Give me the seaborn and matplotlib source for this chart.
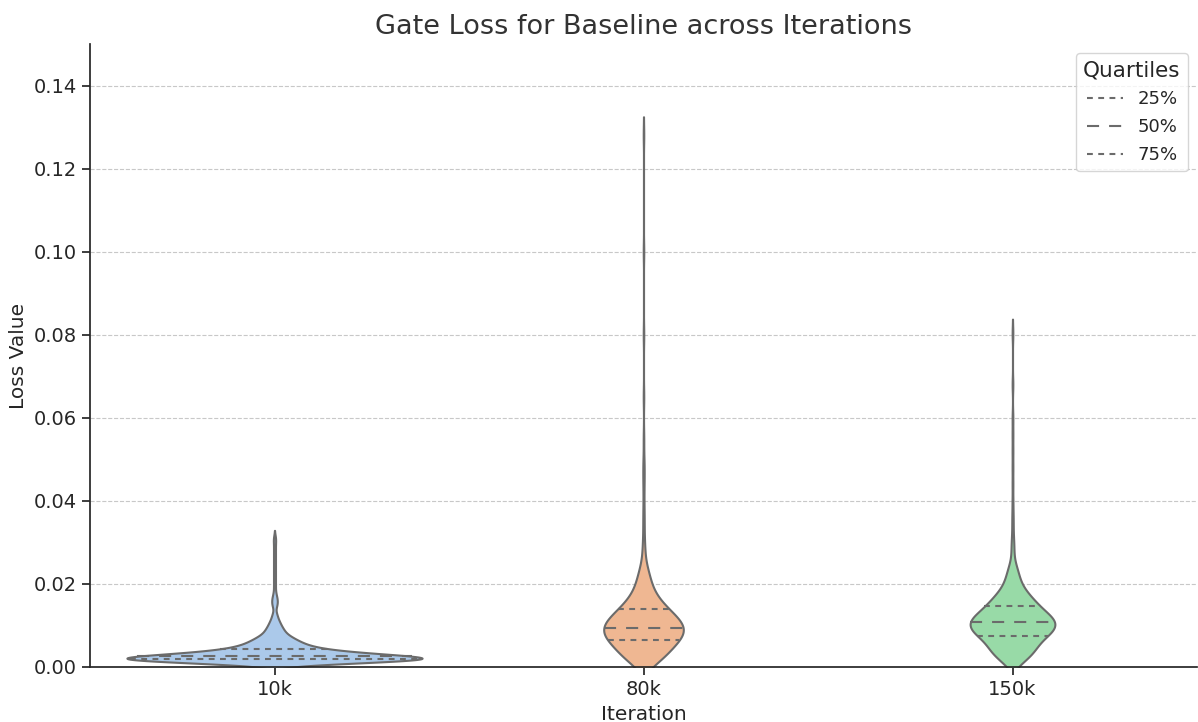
import numpy as np
import pandas as pd
import matplotlib
matplotlib.use("Agg")
import matplotlib.pyplot as plt
from matplotlib.lines import Line2D
import seaborn as sns

# Gate loss per checkpoint, stored as (loss value, number of samples) pairs
iterations = ["10k", "80k", "150k"]

loss_10k_values = [
    0.0011, 0.0012, 0.0013, 0.0014, 0.0015, 0.0016, 0.0017, 0.0018, 0.0019, 0.0020,
    0.0021, 0.0022, 0.0023, 0.0024, 0.0025, 0.0026, 0.0027, 0.0028, 0.0029, 0.0030,
    0.0031, 0.0032, 0.0033, 0.0034, 0.0035, 0.0036, 0.0037, 0.0038, 0.0039, 0.0040,
    0.0041, 0.0042, 0.0043, 0.0044, 0.0045, 0.0046,
    0.0048, 0.0050, 0.0052, 0.0054, 0.0056, 0.0058, 0.0060, 0.0062, 0.0064, 0.0066,
    0.0068, 0.0070, 0.0072, 0.0074, 0.0076, 0.0078, 0.0080,
    0.0085, 0.0090, 0.0095, 0.0100, 0.0105, 0.0110, 0.0115, 0.0120, 0.0125, 0.0130,
    0.0145, 0.0150, 0.0155, 0.0160, 0.0165, 0.0170, 0.0180, 0.0195,
    0.0210, 0.0225, 0.0240, 0.0255, 0.0270, 0.0285, 0.0300, 0.0312,
]
loss_10k_counts = [
    4, 9, 13, 14, 14, 15, 15, 15, 15, 15,
    15, 14, 13, 12, 10, 7, 9, 8, 8, 7,
    7, 6, 6, 6, 5, 5, 5, 4, 4, 4,
    4, 4, 3, 3, 3, 3,
    5, 5, 5, 4, 4, 4, 4, 3, 3, 3,
    3, 3, 2, 2, 2, 2, 2,
    4, 3, 3, 2, 2, 2, 1, 1, 1, 1,
    1, 1, 1, 1, 1, 1, 1, 1,
    1, 1, 1, 1, 1, 1, 1, 1,
]

loss_80k_values = [
    0.0005, 0.0010, 0.0015, 0.0020, 0.0025, 0.0030, 0.0035, 0.0040, 0.0045, 0.0050,
    0.0055, 0.0060, 0.0065, 0.0070, 0.0075, 0.0080, 0.0085, 0.0090, 0.0095, 0.0100,
    0.0105, 0.0110, 0.0115, 0.0120, 0.0125, 0.0130, 0.0135, 0.0140, 0.0145, 0.0150,
    0.0155, 0.0160, 0.0165, 0.0170, 0.0175, 0.0180, 0.0185, 0.0190, 0.0195, 0.0200,
    0.0205, 0.0210, 0.0215, 0.0220, 0.0225, 0.0230, 0.0235, 0.0240, 0.0245, 0.0250,
    0.0260, 0.0270, 0.0280, 0.0290, 0.0300, 0.0320, 0.0340, 0.0360, 0.0380, 0.0410,
    0.0440, 0.0460, 0.0480, 0.0500, 0.0550, 0.0650, 0.0800, 0.1000, 0.1280,
]
loss_80k_counts = [
    5, 6, 7, 7, 7, 8, 9, 9, 10, 10,
    11, 10, 13, 14, 15, 15, 15, 15, 15, 14,
    14, 14, 13, 12, 11, 10, 9, 8, 8, 7,
    7, 6, 5, 4, 4, 4, 3, 3, 3, 3,
    3, 2, 2, 2, 2, 2, 2, 1, 1, 1,
    1, 1, 1, 1, 1, 1, 1, 1, 1, 1,
    1, 1, 1, 1, 1, 1, 1, 1, 1,
]

loss_150k_values = [
    0.0005, 0.0010, 0.0015, 0.0020, 0.0025, 0.0030, 0.0035, 0.0040, 0.0045, 0.0050,
    0.0055, 0.0060, 0.0065, 0.0070, 0.0075, 0.0080, 0.0085, 0.0090, 0.0095, 0.0100,
    0.0105, 0.0110, 0.0115, 0.0120, 0.0125, 0.0130, 0.0135, 0.0140, 0.0145, 0.0150,
    0.0155, 0.0160, 0.0165, 0.0170, 0.0175, 0.0180, 0.0185, 0.0190, 0.0195, 0.0200,
    0.0205, 0.0210, 0.0215, 0.0220, 0.0225, 0.0230, 0.0235, 0.0240, 0.0245, 0.0250,
    0.0260, 0.0270, 0.0280, 0.0290, 0.0300, 0.0310, 0.0330, 0.0350, 0.0370, 0.0400,
    0.0440, 0.0480, 0.0520, 0.0560, 0.0600, 0.0680, 0.0803,
]
loss_150k_counts = [
    3, 4, 4, 5, 6, 7, 8, 8, 8, 8,
    9, 9, 10, 10, 11, 14, 15, 15, 15, 15,
    16, 16, 15, 14, 13, 12, 11, 10, 9, 9,
    8, 8, 7, 6, 6, 5, 4, 4, 3, 3,
    3, 3, 2, 2, 2, 2, 2, 2, 1, 1,
    1, 1, 1, 1, 1, 1, 1, 1, 1, 1,
    1, 1, 1, 1, 1, 1, 1,
]

quartile_labels = ["25%", "50%", "75%"]

sns.set_theme(style="ticks")
plt.rcParams["font.family"] = ["DejaVu Sans"]

groups = [
    (loss_10k_values, loss_10k_counts),
    (loss_80k_values, loss_80k_counts),
    (loss_150k_values, loss_150k_counts),
]
frames = [
    pd.DataFrame({"Iteration": name, "Loss Value": np.repeat(vals, cnts)})
    for name, (vals, cnts) in zip(iterations, groups)
]
df = pd.concat(frames, ignore_index=True)

LINE_GRAY = "#6b6b6b"
QUART_DASH = (2.8, 2.6)
MEDIAN_DASH = (5.8, 4.8)

fig = plt.figure(figsize=(11.98, 7.22), dpi=100)
ax = fig.add_axes([90 / 1198, 55 / 722, 1107 / 1198, 623 / 722])

sns.violinplot(
    data=df, x="Iteration", y="Loss Value", hue="Iteration", order=iterations,
    palette="pastel", legend=False, inner="quart", linewidth=1.5,
    linecolor=LINE_GRAY, bw_adjust=0.65, gridsize=600, common_norm=True, ax=ax,
)

# quartile lines come in groups of three (25%, 50%, 75%) per violin
for i, ln in enumerate(ax.lines):
    ln.set_color(LINE_GRAY)
    ln.set_linewidth(1.5)
    ln.set_dashes(MEDIAN_DASH if i % 3 == 1 else QUART_DASH)

ax.set_ylim(0, 0.15)
ax.set_yticks(np.arange(0, 0.141, 0.02))
ax.grid(axis="y", linestyle="--", color="#c8c8c8", linewidth=0.8)
ax.set_axisbelow(True)
sns.despine(ax=ax)

ax.set_title("Gate Loss for Baseline across Iterations", fontsize=19.5, color="#333333", pad=7)
ax.set_xlabel("Iteration", fontsize=14.5, color="#262626")
ax.set_ylabel("Loss Value", fontsize=14.5, color="#262626")
ax.tick_params(axis="both", labelsize=14, colors="#262626")

handles = [
    Line2D([0], [0], color=LINE_GRAY, linewidth=1.5,
           dashes=(MEDIAN_DASH if k == 1 else QUART_DASH))
    for k in range(3)
]
ax.legend(handles, quartile_labels, title="Quartiles", loc="upper right",
          fontsize=13, title_fontsize=15.5, frameon=True, labelspacing=0.55)

fig.savefig("out.png", dpi=100)
